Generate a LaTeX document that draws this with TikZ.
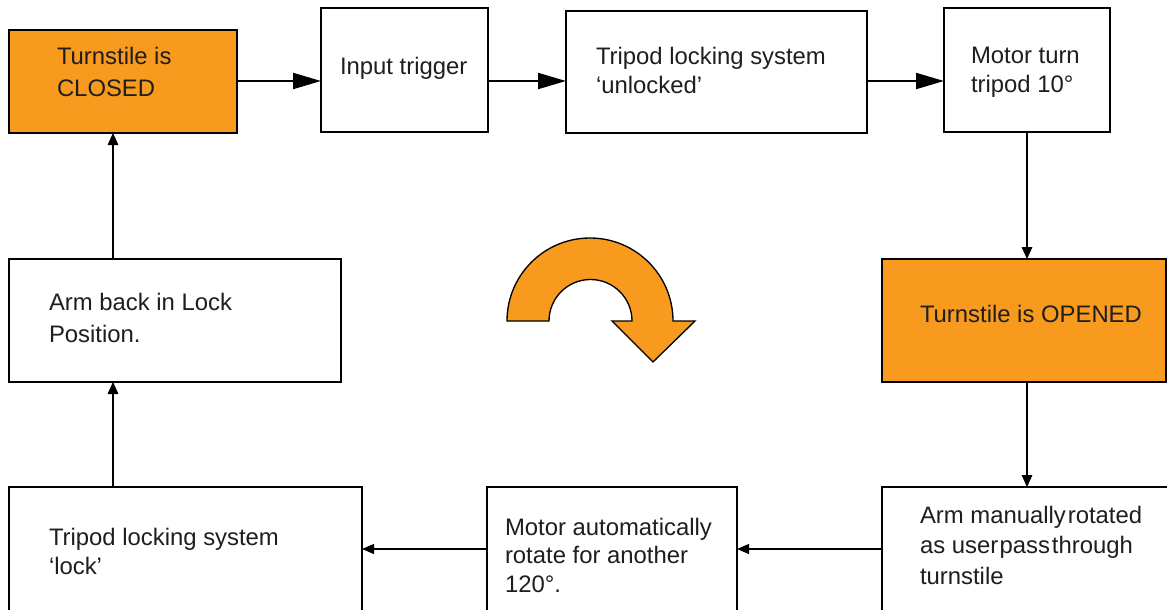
\documentclass[tikz,border=0pt]{standalone}
\usepackage{fontspec}
\setmainfont{Liberation Sans}
\usetikzlibrary{fit,arrows.meta}
\definecolor{orng}{HTML}{F89A1E}
\definecolor{txt}{HTML}{1E1E1E}
\begin{document}
\begin{tikzpicture}[x=0.75pt,y=-0.75pt,
  box/.style={draw=black, line width=1.1pt, fill=white, inner sep=0pt, outer sep=0pt},
  obox/.style={box, fill=orng},
  lbl/.style={anchor=north west, inner sep=0pt, outer sep=0pt, align=left, text=txt,
    font=\fontsize{17.9pt}{21.8pt}\selectfont},
  lblw/.style={lbl, font=\fontsize{17.9pt}{24pt}\selectfont},
  bigarr/.style={line width=1.5pt, -{Triangle[length=21pt,width=12pt]}},
  vtarr/.style={line width=0.8pt, -{Triangle[length=9pt,width=8pt]}},
  htarr/.style={line width=0.8pt, -{Triangle[length=9pt,width=7.5pt]}},
  curv/.style={draw=black, line width=1pt, fill=orng, line join=miter}
]
\useasboundingbox (0,0) rectangle (1167,610);
\clip (0,0) rectangle (1167,610);
% boxes
\node[obox, fit={(9,30) (237,133)}] (closed) {};
\node[box, fit={(321,8) (488,132)}] (input) {};
\node[box, fit={(566,11) (867,133)}] (unlock) {};
\node[box, fit={(944,8) (1110,132)}] (motor) {};
\node[obox, fit={(882,259) (1166,382)}] (opened) {};
\node[box, fit={(882,487) (1180,625)}] (manual) {};
\node[box, fit={(487,487) (737,625)}] (auto) {};
\node[box, fit={(9,487) (362,625)}] (lock) {};
\node[box, fit={(9,259) (341,382)}] (back) {};
% labels
\node[lblw] (tclosed) at (57,47) {Turnstile is\\CLOSED};
\node[lbl] (tinput) at (340,57) {Input trigger};
\node[lbl] (tunlock) at (596,47) {Tripod locking system\\‘unlocked’};
\node[lbl] (tmotor) at (971,47) {Motor turn\\tripod 10°};
\node[lbl] (topened) at (920,305) {Turnstile is OPENED};
\node[lbl, font=\fontsize{17.9pt}{23pt}\selectfont] (tmanual) at (920,506) {Arm manually\hspace{1.5pt}rotated\\as user\hspace{1pt}pass\hspace{1.5pt}through\\turnstile};
\node[lbl, font=\fontsize{17.9pt}{21.4pt}\selectfont] (tauto) at (505,518) {Motor automatically\\rotate for another\\120°.};
\node[lbl] (tlock) at (49,528) {Tripod locking system\\‘lock’};
\node[lblw] (tback) at (49,293) {Arm back in Lock\\Position.};
% connectors
\coordinate (rowy) at (0,81);
\coordinate (boty) at (0,549);
\coordinate (colx) at (1027,0);
\coordinate (lcolx) at (113,0);
\draw[bigarr] (closed.east |- rowy) -- (input.west |- rowy);
\draw[bigarr] (input.east |- rowy) -- (unlock.west |- rowy);
\draw[bigarr] (unlock.east |- rowy) -- (motor.west |- rowy);
\draw[vtarr] (motor.south -| colx) -- (opened.north -| colx);
\draw[vtarr] (opened.south -| colx) -- (manual.north -| colx);
\draw[htarr] (manual.west |- boty) -- (auto.east |- boty);
\draw[htarr] (auto.west |- boty) -- (lock.east |- boty);
\draw[vtarr] (lock.north -| lcolx) -- (back.south -| lcolx);
\draw[vtarr] (back.north -| lcolx) -- (closed.south -| lcolx);
% curved arrow
\draw[curv] (507,321) arc[start angle=180, end angle=360, radius=83]
  -- (695,321) -- (653,362) -- (612,321) -- (632,321)
  arc[start angle=360, end angle=180, radius=41.5] -- cycle;
\end{tikzpicture}
\end{document}
